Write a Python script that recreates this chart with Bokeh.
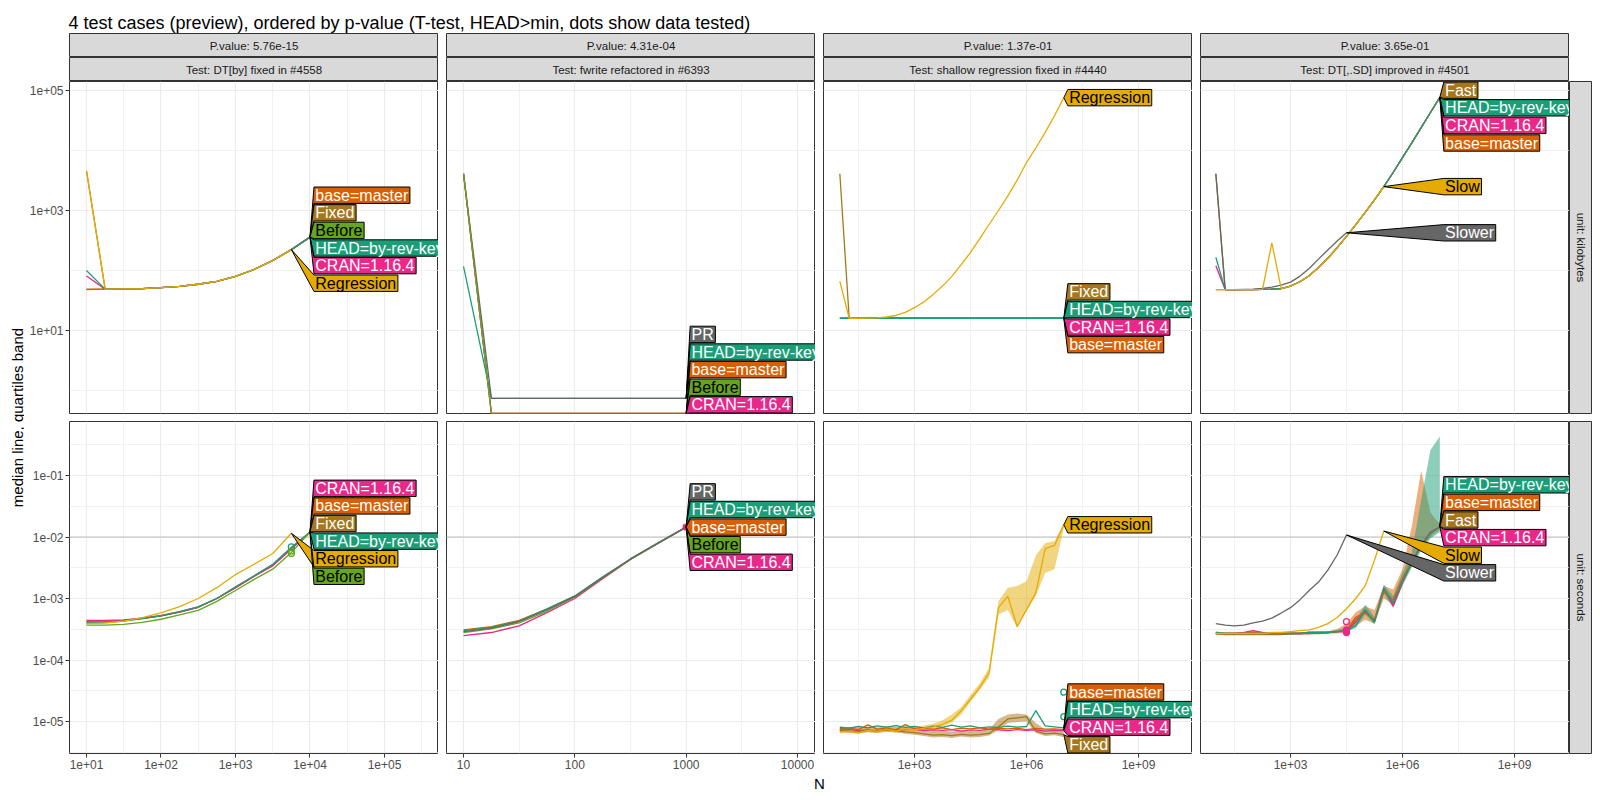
import math
from bokeh.plotting import figure
from bokeh.layouts import row, column
from bokeh.models import Range1d, FixedTicker, CustomJSTickFormatter, Span
from bokeh.core.properties import value
from bokeh.embed import file_html
from bokeh.resources import INLINE

FONT = "Liberation Sans"

# ------------------------------------------------------------------ texts
TITLE = "4 test cases (preview), ordered by p-value (T-test, HEAD>min, dots show data tested)"
PVALUES = ["P.value: 5.76e-15", "P.value: 4.31e-04", "P.value: 1.37e-01", "P.value: 3.65e-01"]
TESTS = ["Test: DT[by] fixed in #4558", "Test: fwrite refactored in #6393",
         "Test: shallow regression fixed in #4440", "Test: DT[,.SD] improved in #4501"]
UNITS = ["unit: kilobytes", "unit: seconds"]
X_TITLE = "N"
Y_TITLE = "median line, quartiles band"

COLORS = {
    "HEAD=by-rev-key": "#1B9E77", "base=master": "#D95F02", "CRAN=1.16.4": "#E7298A",
    "Before": "#66A61E", "Regression": "#E6AB02", "Fixed": "#A6761D", "PR": "#666666",
    "Slow": "#E6AB02", "Slower": "#666666", "Fast": "#A6761D",
}
DARK_TEXT = ["Before", "Regression", "Slow"]

# ------------------------------------------------------------------ data
H, B, C, BE, RG, FX, PR = ("HEAD=by-rev-key", "base=master", "CRAN=1.16.4", "Before",
                           "Regression", "Fixed", "PR")

# --- test 1: DT[by]
N_A = [10, 17.8, 31.6, 56.2, 100, 178, 316, 562, 1000, 1778, 3162, 5623, 10000]
A_KB = {
    FX: [4600, 49, 49.5, 50, 52, 54.5, 59, 66, 80, 104, 147, 223, 360],
    BE: [48, 49, 49.5, 50, 52, 54.5, 59, 66, 80, 104, 147, 223, 360],
    B:  [49, 49, 49.5, 50, 52, 54.5, 59, 66, 80, 104, 147, 223, 360],
    C:  [81, 49, 49.5, 50, 52, 54.5, 59, 66, 80, 104, 147, 223, 360],
    H:  [100, 49, 49.5, 50, 52, 54.5, 59, 66, 80, 104, 147, 223, 360],
    RG: [4600, 49, 49.5, 50, 52, 54.5, 59, 66, 80, 104, 147, 223],
}
A_SEC = {
    FX: [4.1e-4, 4.2e-4, 4.4e-4, 4.7e-4, 5.2e-4, 6.0e-4, 7.2e-4, 1.0e-3, 1.5e-3, 2.3e-3, 3.5e-3, 6.6e-3, 1.2e-2],
    B:  [4.2e-4, 4.3e-4, 4.4e-4, 4.8e-4, 5.3e-4, 6.1e-4, 7.3e-4, 1.0e-3, 1.5e-3, 2.3e-3, 3.5e-3, 6.6e-3, 1.2e-2],
    C:  [4.4e-4, 4.4e-4, 4.5e-4, 4.8e-4, 5.2e-4, 6.0e-4, 7.2e-4, 1.0e-3, 1.5e-3, 2.3e-3, 3.4e-3, 6.4e-3, 1.2e-2],
    H:  [4.0e-4, 4.1e-4, 4.3e-4, 4.7e-4, 5.2e-4, 6.1e-4, 7.3e-4, 1.0e-3, 1.55e-3, 2.35e-3, 3.6e-3, 6.8e-3, 1.2e-2],
    BE: [3.7e-4, 3.7e-4, 3.8e-4, 4.1e-4, 4.6e-4, 5.4e-4, 6.4e-4, 9.0e-4, 1.35e-3, 2.05e-3, 3.0e-3, 5.6e-3, 1.2e-2],
    RG: [3.9e-4, 4.0e-4, 4.3e-4, 4.9e-4, 5.85e-4, 7.4e-4, 1.0e-3, 1.5e-3, 2.45e-3, 3.6e-3, 5.4e-3, 1.15e-2],
}
A_TESTED_N = 5623
A_DOTS = [(H, [6.9e-3], False), (BE, [5.4e-3, 5.9e-3], False)]

# --- test 2: fwrite (0 kilobytes are drawn on the panel edge, like ggplot's -Inf)
N_B = [10, 17.8, 31.6, 56.2, 100, 178, 316, 562, 1000]
B_KB = {
    B:  [4100, 0, 0, 0, 0, 0, 0, 0, 0],
    C:  [4100, 0, 0, 0, 0, 0, 0, 0, 0],
    H:  [117, 0.74, 0.74, 0.74, 0.74, 0.74, 0.74, 0.74, 0.74],
    PR: [4100, 0.74, 0.74, 0.74, 0.74, 0.74, 0.74, 0.74, 0.74],
    BE: [4100, 0, 0, 0, 0, 0, 0, 0, 0],
}
B_SEC = {
    C:  [2.5e-4, 2.8e-4, 3.6e-4, 5.9e-4, 1.0e-3, 2.1e-3, 4.3e-3, 7.9e-3, 1.45e-2],
    BE: [2.8e-4, 3.2e-4, 4.0e-4, 6.2e-4, 1.05e-3, 2.15e-3, 4.3e-3, 7.9e-3, 1.45e-2],
    B:  [3.1e-4, 3.5e-4, 4.4e-4, 6.7e-4, 1.09e-3, 2.2e-3, 4.35e-3, 8.0e-3, 1.45e-2],
    H:  [3.0e-4, 3.4e-4, 4.3e-4, 6.8e-4, 1.1e-3, 2.25e-3, 4.4e-3, 8.1e-3, 1.45e-2],
    PR: [2.9e-4, 3.3e-4, 4.2e-4, 6.5e-4, 1.08e-3, 2.2e-3, 4.4e-3, 8.0e-3, 1.45e-2],
}
B_TESTED_N = 1000
B_DOTS = [(C, [1.45e-2], True)]

# --- tests 3 and 4 share the N grid
N_CD = [10, 17.8, 31.6, 56.2, 100, 178, 316, 562, 1000, 1778, 3162, 5623, 10000, 17783,
        31623, 56234, 100000, 177828, 316228, 562341, 1000000, 1778279, 3162278, 5623413, 10000000]

C_KB = {
    FX: [4100, 16, 16, 16, 16, 16, 16, 16, 16, 16, 16, 16, 16, 16, 16, 16, 16, 16, 16, 16, 16, 16, 16, 16, 16],
    B:  [16, 16, 16, 16, 16, 16, 16, 16, 16, 16, 16, 16, 16, 16, 16, 16, 16, 16, 16, 16, 16, 16, 16, 16, 16],
    C:  [16, 16, 16, 16, 16, 16, 16, 16, 16, 16, 16, 16, 16, 16, 16, 16, 16, 16, 16, 16, 16, 16, 16, 16, 16],
    H:  [16, 16, 16, 16, 16, 16, 16, 16, 16, 16, 16, 16, 16, 16, 16, 16, 16, 16, 16, 16, 16, 16, 16, 16, 16],
    RG: [66, 16, 16, 16.1, 16.3, 16.8, 17.8, 20, 24, 30, 40, 55, 80, 125, 200, 340, 590, 1000, 1750,
         3200, 6300, 11000, 20000, 38000, 76000],
}
C_SEC = {
    C:  [7.2e-6, 7.4e-6, 7.1e-6, 7.3e-6, 7.0e-6, 7.6e-6, 7.2e-6, 7.4e-6, 7.5e-6, 7.1e-6, 7.3e-6, 7.2e-6, 7.4e-6,
         7.0e-6, 7.3e-6, 7.2e-6, 7.5e-6, 7.3e-6, 7.1e-6, 7.4e-6, 7.2e-6, 7.3e-6, 7.0e-6, 7.2e-6, 7.1e-6],
    B:  [7.6e-6, 7.9e-6, 7.4e-6, 8.8e-6, 7.5e-6, 7.8e-6, 7.3e-6, 8.9e-6, 7.6e-6, 7.7e-6, 7.5e-6, 7.9e-6, 7.4e-6,
         7.8e-6, 7.6e-6, 7.9e-6, 7.5e-6, 7.7e-6, 7.6e-6, 7.8e-6, 7.4e-6, 7.7e-6, 7.5e-6, 7.6e-6, 7.4e-6],
    H:  [8.0e-6, 7.8e-6, 8.3e-6, 7.9e-6, 8.5e-6, 8.1e-6, 8.6e-6, 8.0e-6, 8.3e-6, 7.9e-6, 8.4e-6, 8.0e-6, 8.7e-6,
         8.1e-6, 8.5e-6, 7.9e-6, 8.2e-6, 8.0e-6, 8.4e-6, 8.1e-6, 8.3e-6, 1.5e-5, 8.5e-6, 8.2e-6, 7.9e-6],
    FX: [7.4e-6, 7.0e-6, 6.9e-6, 7.2e-6, 7.0e-6, 7.3e-6, 7.1e-6, 6.8e-6, 6.6e-6, 6.3e-6, 6.0e-6, 6.1e-6, 5.9e-6,
         6.2e-6, 6.0e-6, 6.1e-6, 6.4e-6, 8.2e-6, 1.1e-5, 1.15e-5, 1.2e-5, 7.0e-6, 6.3e-6, 6.5e-6, 6.1e-6],
    RG: [6.8e-6, 7.0e-6, 6.6e-6, 7.2e-6, 6.9e-6, 7.5e-6, 7.0e-6, 7.6e-6, 7.3e-6, 7.8e-6, 8.2e-6, 9.0e-6, 1.05e-5,
         1.5e-5, 2.3e-5, 3.6e-5, 6.3e-5, 7.1e-4, 1.09e-3, 3.5e-4, 6.6e-4, 1.24e-3, 6.5e-3, 7.3e-3, 1.58e-2],
}
C_SEC_Q1 = {
    FX: [6.9e-6, 6.5e-6, 6.4e-6, 6.7e-6, 6.5e-6, 6.8e-6, 6.6e-6, 6.3e-6, 6.1e-6, 5.8e-6, 5.5e-6, 5.6e-6, 5.4e-6,
         5.7e-6, 5.5e-6, 5.6e-6, 5.9e-6, 7.2e-6, 9.5e-6, 9.8e-6, 1.0e-5, 6.5e-6, 5.8e-6, 6.0e-6, 5.6e-6],
    RG: [6.4e-6, 6.6e-6, 6.3e-6, 6.8e-6, 6.5e-6, 7.0e-6, 6.6e-6, 7.1e-6, 6.9e-6, 7.3e-6, 7.6e-6, 8.2e-6, 9.6e-6,
         1.3e-5, 2.1e-5, 3.3e-5, 5.2e-5, 5.5e-4, 6.5e-4, 3.3e-4, 6.2e-4, 1.1e-3, 2.6e-3, 3.0e-3, 1.4e-2],
}
C_SEC_Q3 = {
    FX: [8.4e-6, 8.0e-6, 7.9e-6, 8.3e-6, 8.0e-6, 8.4e-6, 8.2e-6, 7.8e-6, 7.6e-6, 7.3e-6, 7.0e-6, 7.1e-6, 6.9e-6,
         7.2e-6, 7.0e-6, 7.1e-6, 7.5e-6, 1.1e-5, 1.3e-5, 1.35e-5, 1.3e-5, 9.5e-6, 7.4e-6, 7.6e-6, 7.1e-6],
    RG: [7.4e-6, 7.6e-6, 7.2e-6, 7.8e-6, 7.5e-6, 8.2e-6, 7.7e-6, 8.4e-6, 8.0e-6, 8.6e-6, 9.2e-6, 1.05e-5, 1.3e-5,
         1.7e-5, 2.7e-5, 4.2e-5, 7.5e-5, 9.0e-4, 1.5e-3, 1.6e-3, 1.9e-3, 5.0e-3, 8.0e-3, 8.5e-3, 1.7e-2],
}
C_TESTED_N = 10000000
C_DOTS = [(H, [3.0e-5, 1.2e-5], False)]

SL, SR, FA = "Slow", "Slower", "Fast"
D_KB = {
    B:  [48, 48, 48, 48, 48, 48.5, 49, 50, 55, 65, 82, 112, 160, 240, 370, 580, 930, 1500, 2500, 4300,
         7600, 13400, 24000, 43000, 77000],
    C:  [120, 48, 48, 48, 48, 48.5, 49, 50, 55, 65, 82, 112, 160, 240, 370, 580, 930, 1500, 2500, 4300,
         7600, 13400, 24000, 43000, 77000],
    FA: [4100, 48, 48, 48, 48, 48.5, 49, 50, 55, 65, 82, 112, 160, 240, 370, 580, 930, 1500, 2500, 4300,
         7600, 13400, 24000, 43000, 77000],
    H:  [166, 48, 48, 48, 48, 48.5, 49, 50, 55, 65, 82, 112, 160, 240, 370, 580, 930, 1500, 2500, 4300,
         7600, 13400, 24000, 43000, 77000],
    SR: [4100, 48, 48, 48.5, 49, 50.5, 53, 57, 64, 80, 108, 155, 220, 310, 425],
    SL: [48, 48, 48, 48, 48, 48.5, 290, 50, 55, 65, 82, 112, 160, 240, 370, 580, 930, 1500, 2500],
}
D_SEC = {
    FA: [2.7e-4, 2.6e-4, 2.6e-4, 2.6e-4, 2.6e-4, 2.6e-4, 2.6e-4, 2.6e-4, 2.7e-4, 2.7e-4, 2.7e-4, 2.7e-4, 2.8e-4,
         2.9e-4, 3.0e-4, 4.6e-4, 6.4e-4, 4.2e-4, 1.4e-3, 8.0e-4, 2.0e-3, 3.9e-3, 7.2e-3, 1.18e-2, 1.47e-2],
    C:  [2.7e-4, 2.7e-4, 2.7e-4, 2.8e-4, 3.0e-4, 2.8e-4, 2.7e-4, 2.7e-4, 2.7e-4, 2.7e-4, 2.7e-4, 2.8e-4, 2.8e-4,
         2.9e-4, 2.9e-4, 4.2e-4, 6.2e-4, 4.3e-4, 1.5e-3, 7.5e-4, 1.8e-3, 4.0e-3, 7.5e-3, 1.2e-2, 1.47e-2],
    B:  [2.7e-4, 2.7e-4, 2.7e-4, 2.7e-4, 2.8e-4, 2.7e-4, 2.7e-4, 2.7e-4, 2.7e-4, 2.7e-4, 2.8e-4, 2.8e-4, 2.8e-4,
         2.9e-4, 3.1e-4, 5.0e-4, 5.8e-4, 4.5e-4, 1.3e-3, 9.5e-4, 2.1e-3, 4.0e-3, 7.2e-3, 1.15e-2, 1.47e-2],
    H:  [2.8e-4, 2.7e-4, 2.7e-4, 2.7e-4, 2.7e-4, 2.7e-4, 2.7e-4, 2.7e-4, 2.7e-4, 2.7e-4, 2.8e-4, 2.8e-4, 2.8e-4,
         2.9e-4, 3.0e-4, 3.6e-4, 6.6e-4, 4.1e-4, 1.45e-3, 8.5e-4, 1.9e-3, 3.8e-3, 7.0e-3, 1.15e-2, 1.47e-2],
    SL: [2.7e-4, 2.7e-4, 2.7e-4, 2.7e-4, 2.7e-4, 2.7e-4, 2.8e-4, 2.8e-4, 2.9e-4, 3.0e-4, 3.1e-4, 3.4e-4, 3.9e-4,
         4.9e-4, 6.8e-4, 1.0e-3, 1.6e-3, 4.2e-3, 1.25e-2],
    SR: [3.9e-4, 3.7e-4, 3.6e-4, 3.7e-4, 4.0e-4, 4.3e-4, 4.8e-4, 5.8e-4, 7.1e-4, 9.5e-4, 1.35e-3, 1.85e-3, 2.9e-3,
         5.1e-3, 1.08e-2],
}
D_SEC_Q1 = {
    B:  [2.6e-4, 2.6e-4, 2.6e-4, 2.6e-4, 2.7e-4, 2.6e-4, 2.6e-4, 2.6e-4, 2.6e-4, 2.6e-4, 2.7e-4, 2.7e-4, 2.7e-4,
         2.7e-4, 2.8e-4, 3.6e-4, 4.5e-4, 3.9e-4, 1.0e-3, 8.0e-4, 1.7e-3, 3.4e-3, 6.5e-3, 1.0e-2, 1.3e-2],
    H:  [2.7e-4, 2.6e-4, 2.6e-4, 2.6e-4, 2.6e-4, 2.6e-4, 2.6e-4, 2.6e-4, 2.6e-4, 2.6e-4, 2.7e-4, 2.7e-4, 2.7e-4,
         2.8e-4, 2.9e-4, 3.3e-4, 5.5e-4, 3.8e-4, 1.2e-3, 7.0e-4, 1.6e-3, 3.2e-3, 6.0e-3, 9.5e-3, 1.2e-2],
}
D_SEC_Q3 = {
    B:  [2.8e-4, 2.8e-4, 2.8e-4, 2.8e-4, 3.0e-4, 2.8e-4, 2.8e-4, 2.8e-4, 2.8e-4, 2.8e-4, 2.9e-4, 2.9e-4, 2.9e-4,
         3.2e-4, 3.9e-4, 6.0e-4, 7.5e-4, 6.5e-4, 1.6e-3, 1.4e-3, 3.0e-3, 1.5e-2, 1.2e-1, 2.5e-2, 1.6e-2],
    H:  [2.9e-4, 2.8e-4, 2.8e-4, 2.8e-4, 2.8e-4, 2.8e-4, 2.8e-4, 2.8e-4, 2.8e-4, 2.8e-4, 2.9e-4, 2.9e-4, 2.9e-4,
         3.1e-4, 3.3e-4, 4.4e-4, 8.0e-4, 5.0e-4, 1.7e-3, 1.1e-3, 2.6e-3, 5.5e-3, 4.0e-2, 2.6e-1, 4.3e-1],
}
D_TESTED_N = 31623
D_DOTS = [(C, [2.8e-4, 3.1e-4], True), (C, [4.2e-4], False)]

# label stacking order (top to bottom) in each panel
ORDER = {
    (0, 0): [B, FX, BE, H, C, RG], (0, 1): [C, B, FX, H, RG, BE],
    (1, 0): [PR, H, B, BE, C],     (1, 1): [PR, H, B, BE, C],
    (2, 0): [RG, FX, H, C, B],     (2, 1): [RG, B, H, C, FX],
    (3, 0): [FA, H, C, B, SL, SR], (3, 1): [H, B, FA, C, SL, SR],
}

PANELS = {
    (0, 0): dict(N=N_A, lines=A_KB), (0, 1): dict(N=N_A, lines=A_SEC, tested=A_TESTED_N, dots=A_DOTS),
    (1, 0): dict(N=N_B, lines=B_KB), (1, 1): dict(N=N_B, lines=B_SEC, tested=B_TESTED_N, dots=B_DOTS),
    (2, 0): dict(N=N_CD, lines=C_KB),
    (2, 1): dict(N=N_CD, lines=C_SEC, q1=C_SEC_Q1, q3=C_SEC_Q3, tested=C_TESTED_N, dots=C_DOTS),
    (3, 0): dict(N=N_CD, lines=D_KB),
    (3, 1): dict(N=N_CD, lines=D_SEC, q1=D_SEC_Q1, q3=D_SEC_Q3, tested=D_TESTED_N, dots=D_DOTS),
}

# ------------------------------------------------------------------ layout constants
FW, FH = 369, 332
STRIP_H = 24
X_LOG = [(0.772, 5.725), (0.847, 4.162), (0.562, 10.447), (0.589, 10.474)]
Y_LOG = [(-0.383, 5.15), (-5.52, -0.122)]
X_MAJOR = [[1e1, 1e2, 1e3, 1e4, 1e5], [10, 100, 1000, 10000], [1e3, 1e6, 1e9], [1e3, 1e6, 1e9]]
X_MINOR = [[10 ** 1.5, 10 ** 2.5, 10 ** 3.5, 10 ** 4.5, 10 ** 5.5], [10 ** 1.5, 10 ** 2.5, 10 ** 3.5],
           [10 ** 1.5, 10 ** 4.5, 10 ** 7.5], [10 ** 1.5, 10 ** 4.5, 10 ** 7.5]]
Y_MAJOR = [[1e1, 1e3, 1e5], [1e-5, 1e-4, 1e-3, 1e-2, 1e-1]]
Y_MINOR = [[1e0, 1e2, 1e4], [10 ** -5.5, 10 ** -4.5, 10 ** -3.5, 10 ** -2.5, 10 ** -1.5, 10 ** -0.5]]
LEFT = [45, 8, 8, 8]
YLAB_W = 24
HEAD_H = 33
LBL_STEP, LBL_HALF = 17.6, 8.2

ARIAL = {' ': 278, '#': 556, '(': 333, ')': 333, '+': 584, ',': 278, '-': 333, '.': 278, ':': 278,
         '=': 584, '>': 584, 'A': 667, 'B': 667, 'C': 722, 'D': 722, 'E': 667, 'F': 611, 'H': 722,
         'K': 667, 'N': 722, 'P': 667, 'R': 722, 'S': 667, 'T': 611, 'a': 556, 'b': 556, 'c': 500,
         'd': 556, 'e': 556, 'f': 278, 'g': 556, 'h': 556, 'i': 222, 'k': 500, 'l': 222, 'm': 833,
         'n': 556, 'o': 556, 'p': 556, 'r': 333, 's': 500, 't': 278, 'u': 556, 'v': 500, 'w': 722,
         'x': 500, 'y': 500}


def text_w(s, size):
    return sum(ARIAL.get(ch, 556) for ch in s) * size / 1000.0


def sci_fmt():
    return CustomJSTickFormatter(code="""
        const e = Math.round(Math.log10(tick));
        const a = Math.abs(e);
        return "1e" + (e < 0 ? "-" : "+") + (a < 10 ? "0" : "") + a;""")


def plain_fmt():
    return CustomJSTickFormatter(code="return Math.round(tick).toString();")


def stack(desired, step, lo, hi):
    """1-D non-overlapping placement closest to the desired centres (pool adjacent violators)."""
    z = [d - i * step for i, d in enumerate(desired)]
    blocks = []
    for v in z:
        blocks.append([v, 1])
        while len(blocks) > 1 and blocks[-2][0] / blocks[-2][1] > blocks[-1][0] / blocks[-1][1]:
            s, c = blocks.pop()
            blocks[-1][0] += s
            blocks[-1][1] += c
    zf = []
    for s, c in blocks:
        zf += [s / c] * c
    zmax = hi - (len(desired) - 1) * step
    zf = [min(max(v, lo), zmax) for v in zf]
    return [v + i * step for i, v in enumerate(zf)]


def style_axis(ax):
    ax.axis_line_color = None
    ax.major_tick_line_color = "#333333"
    ax.major_tick_out = 4
    ax.major_tick_in = 0
    ax.minor_tick_line_color = None
    ax.major_label_text_font = FONT
    ax.major_label_text_font_size = "12px"
    ax.major_label_text_color = "#4D4D4D"
    ax.major_label_standoff = 2


def blank(fig):
    fig.xaxis.visible = False
    fig.yaxis.visible = False
    fig.xgrid.visible = False
    fig.ygrid.visible = False
    return fig


def make_panel(ci, ri):
    cfg = PANELS[(ci, ri)]
    lx0, lx1 = X_LOG[ci]
    ly0, ly1 = Y_LOG[ri]
    p = figure(frame_width=FW, frame_height=FH, x_axis_type="log", y_axis_type="log",
               x_range=Range1d(10 ** lx0, 10 ** lx1), y_range=Range1d(10 ** ly0, 10 ** ly1),
               toolbar_location=None, tools="", output_backend="svg", min_border=0,
               min_border_left=LEFT[ci], min_border_right=0, min_border_top=0,
               min_border_bottom=(8 if ri == 0 else 22))
    p.outline_line_color = "#333333"
    p.outline_line_width = 1
    p.background_fill_color = "white"
    xa, ya = p.xaxis[0], p.yaxis[0]
    xa.ticker = FixedTicker(ticks=X_MAJOR[ci], minor_ticks=X_MINOR[ci])
    ya.ticker = FixedTicker(ticks=Y_MAJOR[ri], minor_ticks=Y_MINOR[ri])
    xa.formatter = plain_fmt() if ci == 1 else sci_fmt()
    ya.formatter = sci_fmt()
    style_axis(xa)
    style_axis(ya)
    xa.visible = (ri == 1)
    ya.visible = (ci == 0)
    for g in (p.xgrid[0], p.ygrid[0]):
        g.grid_line_color = "#EBEBEB"
        g.grid_line_width = 1.1
        g.minor_grid_line_color = "#EBEBEB"
        g.minor_grid_line_width = 0.7

    if ri == 1:
        p.add_layout(Span(location=0.01, dimension="width", line_color="#BDBDBD",
                          line_width=1.2, level="underlay"))

    ylow = 10 ** ly0
    N = cfg["N"]

    def fix(vs):  # zero (log of 0 = -Inf) is drawn on the lower panel edge
        return [v if v > 0 else ylow for v in vs]

    def to_px(n, v):
        px = (math.log10(n) - lx0) / (lx1 - lx0) * FW
        py = FH if v <= 0 else (ly1 - math.log10(v)) / (ly1 - ly0) * FH
        return px, py

    def from_px(px, py):
        return (10 ** (lx0 + px / FW * (lx1 - lx0)), 10 ** (ly1 - py / FH * (ly1 - ly0)))

    q1, q3 = cfg.get("q1", {}), cfg.get("q3", {})
    for name in q1:
        p.varea(x=N[:len(q1[name])], y1=q1[name], y2=q3[name], fill_color=COLORS[name], fill_alpha=0.5)
    for name, vals in cfg["lines"].items():
        p.line(N[:len(vals)], fix(vals), line_color=COLORS[name], line_width=1.3)
    for name, vals, filled in cfg.get("dots", []):
        p.scatter([cfg["tested"]] * len(vals), vals, marker="circle", size=6,
                  line_color=COLORS[name], line_width=1.3,
                  fill_color=(COLORS[name] if filled else None))

    # direct labels (polygon boxes stacked at the right of the last points)
    tips = {}
    for name, vals in cfg["lines"].items():
        tips[name] = to_px(N[len(vals) - 1], vals[-1])
    left = max(t[0] for t in tips.values()) + 4
    order = ORDER[(ci, ri)]
    centers = stack([tips[n][1] for n in order], LBL_STEP, LBL_HALF + 0.5, FH - LBL_HALF - 0.5)
    for name, cy in zip(order, centers):
        tx, ty = tips[name]
        right = left + text_w(name, 16) + 3
        pts = [(tx, ty), (left, cy - LBL_HALF), (right, cy - LBL_HALF), (right, cy + LBL_HALF),
               (left, cy + LBL_HALF)]
        dxy = [from_px(a, b) for a, b in pts]
        p.patch([d[0] for d in dxy], [d[1] for d in dxy], fill_color=COLORS[name],
                line_color="black", line_width=1)
        lx, ly = from_px(left + 1.3, cy)
        p.text(x=[lx], y=[ly], text=[name], text_font=value(FONT), text_font_size="16px",
               text_baseline="middle", text_align="left",
               text_color=("black" if name in DARK_TEXT else "white"))
    return p


def strip(text, w, h, left=0, top=0, bottom=0, angle=0.0):
    p = figure(frame_width=w, frame_height=h, x_range=Range1d(0, 1), y_range=Range1d(0, 1),
               toolbar_location=None, tools="", output_backend="svg", min_border=0,
               min_border_left=left, min_border_right=0, min_border_top=top, min_border_bottom=bottom)
    blank(p)
    p.background_fill_color = "#D9D9D9"
    p.outline_line_color = "#333333"
    p.text(x=[0.5], y=[0.5], text=[text], text_align="center", text_baseline="middle", angle=angle,
           text_font=value(FONT), text_font_size="11.5px", text_color="#1A1A1A")
    return p


def text_fig(w, h, text, x, y, size, align="left", baseline="alphabetic", angle=0.0):
    p = figure(width=w, height=h, x_range=Range1d(0, w), y_range=Range1d(0, h),
               toolbar_location=None, tools="", output_backend="svg", min_border=0,
               min_border_left=0, min_border_right=0, min_border_top=0, min_border_bottom=0)
    blank(p)
    p.outline_line_color = None
    p.text(x=[x], y=[y], text=[text], text_align=align, text_baseline=baseline, angle=angle,
           text_font=value(FONT), text_font_size=size, text_color="black")
    return p


TOTAL_W = YLAB_W + (LEFT[0] + FW) + 3 * (LEFT[1] + FW) + 23
BODY_H = 2 * STRIP_H + FH + 8 + FH + 22

header = text_fig(TOTAL_W, HEAD_H, TITLE, 68, 11, "18px")
ylab = text_fig(YLAB_W, BODY_H, Y_TITLE, 16.5, BODY_H - (2 * STRIP_H + FH + 4), "15px",
                align="center", baseline="middle", angle=math.pi / 2)

cols = []
for ci in range(4):
    cols.append(column(
        strip(PVALUES[ci], FW, STRIP_H, left=LEFT[ci]),
        strip(TESTS[ci], FW, STRIP_H, left=LEFT[ci]),
        make_panel(ci, 0),
        make_panel(ci, 1),
        spacing=0))

rstrips = column(
    strip(UNITS[0], 23, FH, top=2 * STRIP_H, bottom=8, angle=-math.pi / 2),
    strip(UNITS[1], 23, FH, bottom=22, angle=-math.pi / 2),
    spacing=0)

body = row(ylab, *cols, rstrips, spacing=0)
center_x = YLAB_W + LEFT[0] + (4 * FW + 3 * LEFT[1]) / 2
footer = text_fig(TOTAL_W, 17, X_TITLE, center_x, 9.5, "15px", align="center", baseline="middle")

layout = column(header, body, footer, spacing=0)
open("out.html", "w").write(file_html(layout, INLINE, title="atime"))
